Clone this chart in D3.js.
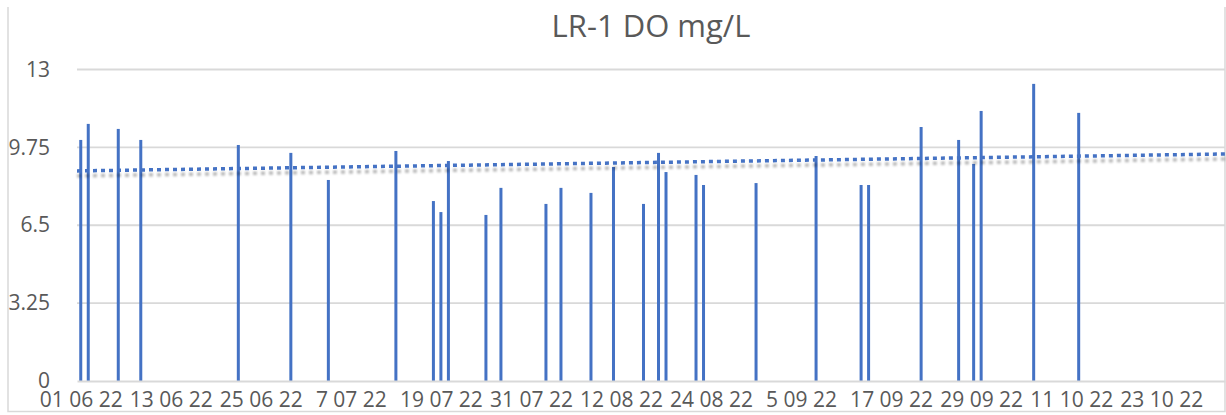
<!DOCTYPE html>
<html>
<head>
<meta charset="utf-8">
<script src="https://cdn.jsdelivr.net/npm/d3@7"></script>
<style>
  body { margin: 0; background: #fff; }
  text { font-family: "Open Sans", sans-serif; fill: #595959; }
</style>
</head>
<body>
<div id="chart"></div>
<script>

var dates = ["2022-06-01","2022-06-02","2022-06-06","2022-06-09","2022-06-22","2022-06-29","2022-07-04","2022-07-13",
             "2022-07-18","2022-07-19","2022-07-20","2022-07-25","2022-07-27","2022-08-02","2022-08-04","2022-08-08",
             "2022-08-11","2022-08-15","2022-08-17","2022-08-18","2022-08-22","2022-08-23","2022-08-30","2022-09-07",
             "2022-09-13","2022-09-14","2022-09-21","2022-09-26","2022-09-28","2022-09-29","2022-10-06","2022-10-12"]

var doValues = [10.06, 10.73, 10.52, 10.06, 9.85, 9.52, 8.39, 9.60,
                7.51, 7.05, 9.18, 6.93, 8.06, 7.39, 8.06, 7.85,
                8.93, 7.39, 9.52, 8.72, 8.60, 8.18, 8.26, 9.39,
                8.18, 8.18, 10.60, 10.06, 9.06, 11.27, 12.40, 11.19]

var tickDates = ["2022-06-01","2022-06-13","2022-06-25","2022-07-07","2022-07-19","2022-07-31","2022-08-12",
                 "2022-08-24","2022-09-05","2022-09-17","2022-09-29","2022-10-11","2022-10-23"]
var tickLabels = ["01 06 22","13 06 22","25 06 22","7 07 22","19 07 22","31 07 22","12 08 22",
                  "24 08 22","5 09 22","17 09 22","29 09 22","11 10 22","23 10 22"]

var yTicks = [0, 3.25, 6.5, 9.75, 13]
var yTickLabels = ["0", "3.25", "6.5", "9.75", "13"]

var title = "LR-1 DO mg/L"

var W = 1226, H = 415
var plot = {left: 77, right: 1225, top: 69.5, bottom: 381}

var parse = d3.utcParse("%Y-%m-%d")
var dayMs = 864e5

var data = dates.map(function(d, i) { return {date: parse(d), v: doValues[i]} })

var x = d3.scaleUtc()
    .domain([new Date(parse("2022-06-01") - dayMs / 2), new Date(+parse("2022-10-31") + dayMs / 2)])
    .range([plot.left, plot.right])

var y = d3.scaleLinear()
    .domain([0, 13])
    .range([plot.bottom, plot.top])

var svg = d3.select("#chart").append("svg")
    .attr("width", W)
    .attr("height", H)

var defs = svg.append("defs")
var f = defs.append("filter").attr("id", "shadow")
    .attr("x", "-5%").attr("y", "-200%").attr("width", "110%").attr("height", "500%")
f.append("feDropShadow")
    .attr("dx", 0).attr("dy", 5).attr("stdDeviation", 1.3)
    .attr("flood-color", "#000").attr("flood-opacity", 0.28)

// chart border (left, bottom, right)
svg.append("path")
    .attr("d", "M8,7V411.5H1225V7")
    .attr("fill", "none")
    .attr("stroke", "#d9d9d9")
    .attr("stroke-width", 1.5)

svg.append("text")
    .attr("x", 651)
    .attr("y", 37)
    .attr("text-anchor", "middle")
    .style("font-size", "31px")
    .text(title)

// gridlines
svg.append("g")
  .selectAll("line")
  .data(yTicks.slice(1))
  .enter().append("line")
    .attr("x1", plot.left)
    .attr("x2", 1225)
    .attr("y1", function(d) { return y(d) })
    .attr("y2", function(d) { return y(d) })
    .attr("stroke", "#d9d9d9")
    .attr("stroke-width", 1.8)

// y axis labels
var yAxis = svg.append("g")
    .attr("transform", "translate(" + (plot.left - 27) + ",0)")
    .call(d3.axisLeft(y)
        .tickValues(yTicks)
        .tickSize(0)
        .tickPadding(0)
        .tickFormat(function(d, i) { return yTickLabels[i] }))
yAxis.select(".domain").remove()
yAxis.selectAll("text")
    .style("font-size", "21px")
    .attr("fill", "#595959")

// bars
var barW = 3
svg.append("g")
  .selectAll("rect")
  .data(data)
  .enter().append("rect")
    .attr("x", function(d) { return x(d.date) - barW / 2 })
    .attr("y", function(d) { return y(d.v) })
    .attr("width", barW)
    .attr("height", function(d) { return y(0) - y(d.v) })
    .attr("fill", "#4472c4")

// x axis
var xAxis = svg.append("g")
    .attr("transform", "translate(0," + plot.bottom + ")")
    .call(d3.axisBottom(x)
        .tickValues(tickDates.map(parse))
        .tickSize(0)
        .tickPadding(11)
        .tickFormat(function(d, i) { return tickLabels[i] }))
xAxis.select(".domain")
    .attr("stroke", "#d9d9d9")
    .attr("stroke-width", 1.8)
xAxis.selectAll("text")
    .style("font-size", "21px")
    .attr("fill", "#595959")

// linear trendline (least squares on day number)
var t0 = +parse("2022-06-01")
var xs = data.map(function(d) { return (d.date - t0) / dayMs })
var mx = d3.mean(xs), my = d3.mean(doValues)
var sxy = d3.sum(xs, function(v, i) { return (v - mx) * (doValues[i] - my) })
var sxx = d3.sum(xs, function(v) { return (v - mx) * (v - mx) })
var slope = sxy / sxx, icpt = my - slope * mx

var ends = x.domain().map(function(t) {
    var dd = (t - t0) / dayMs
    return [x(t), y(icpt + slope * dd)]
})

svg.append("path")
    .attr("d", d3.line()(ends))
    .attr("fill", "none")
    .attr("stroke", "#4472c4")
    .attr("stroke-width", 3.5)
    .attr("stroke-dasharray", "4 4")
    .attr("filter", "url(#shadow)")

</script>
</body>
</html>
